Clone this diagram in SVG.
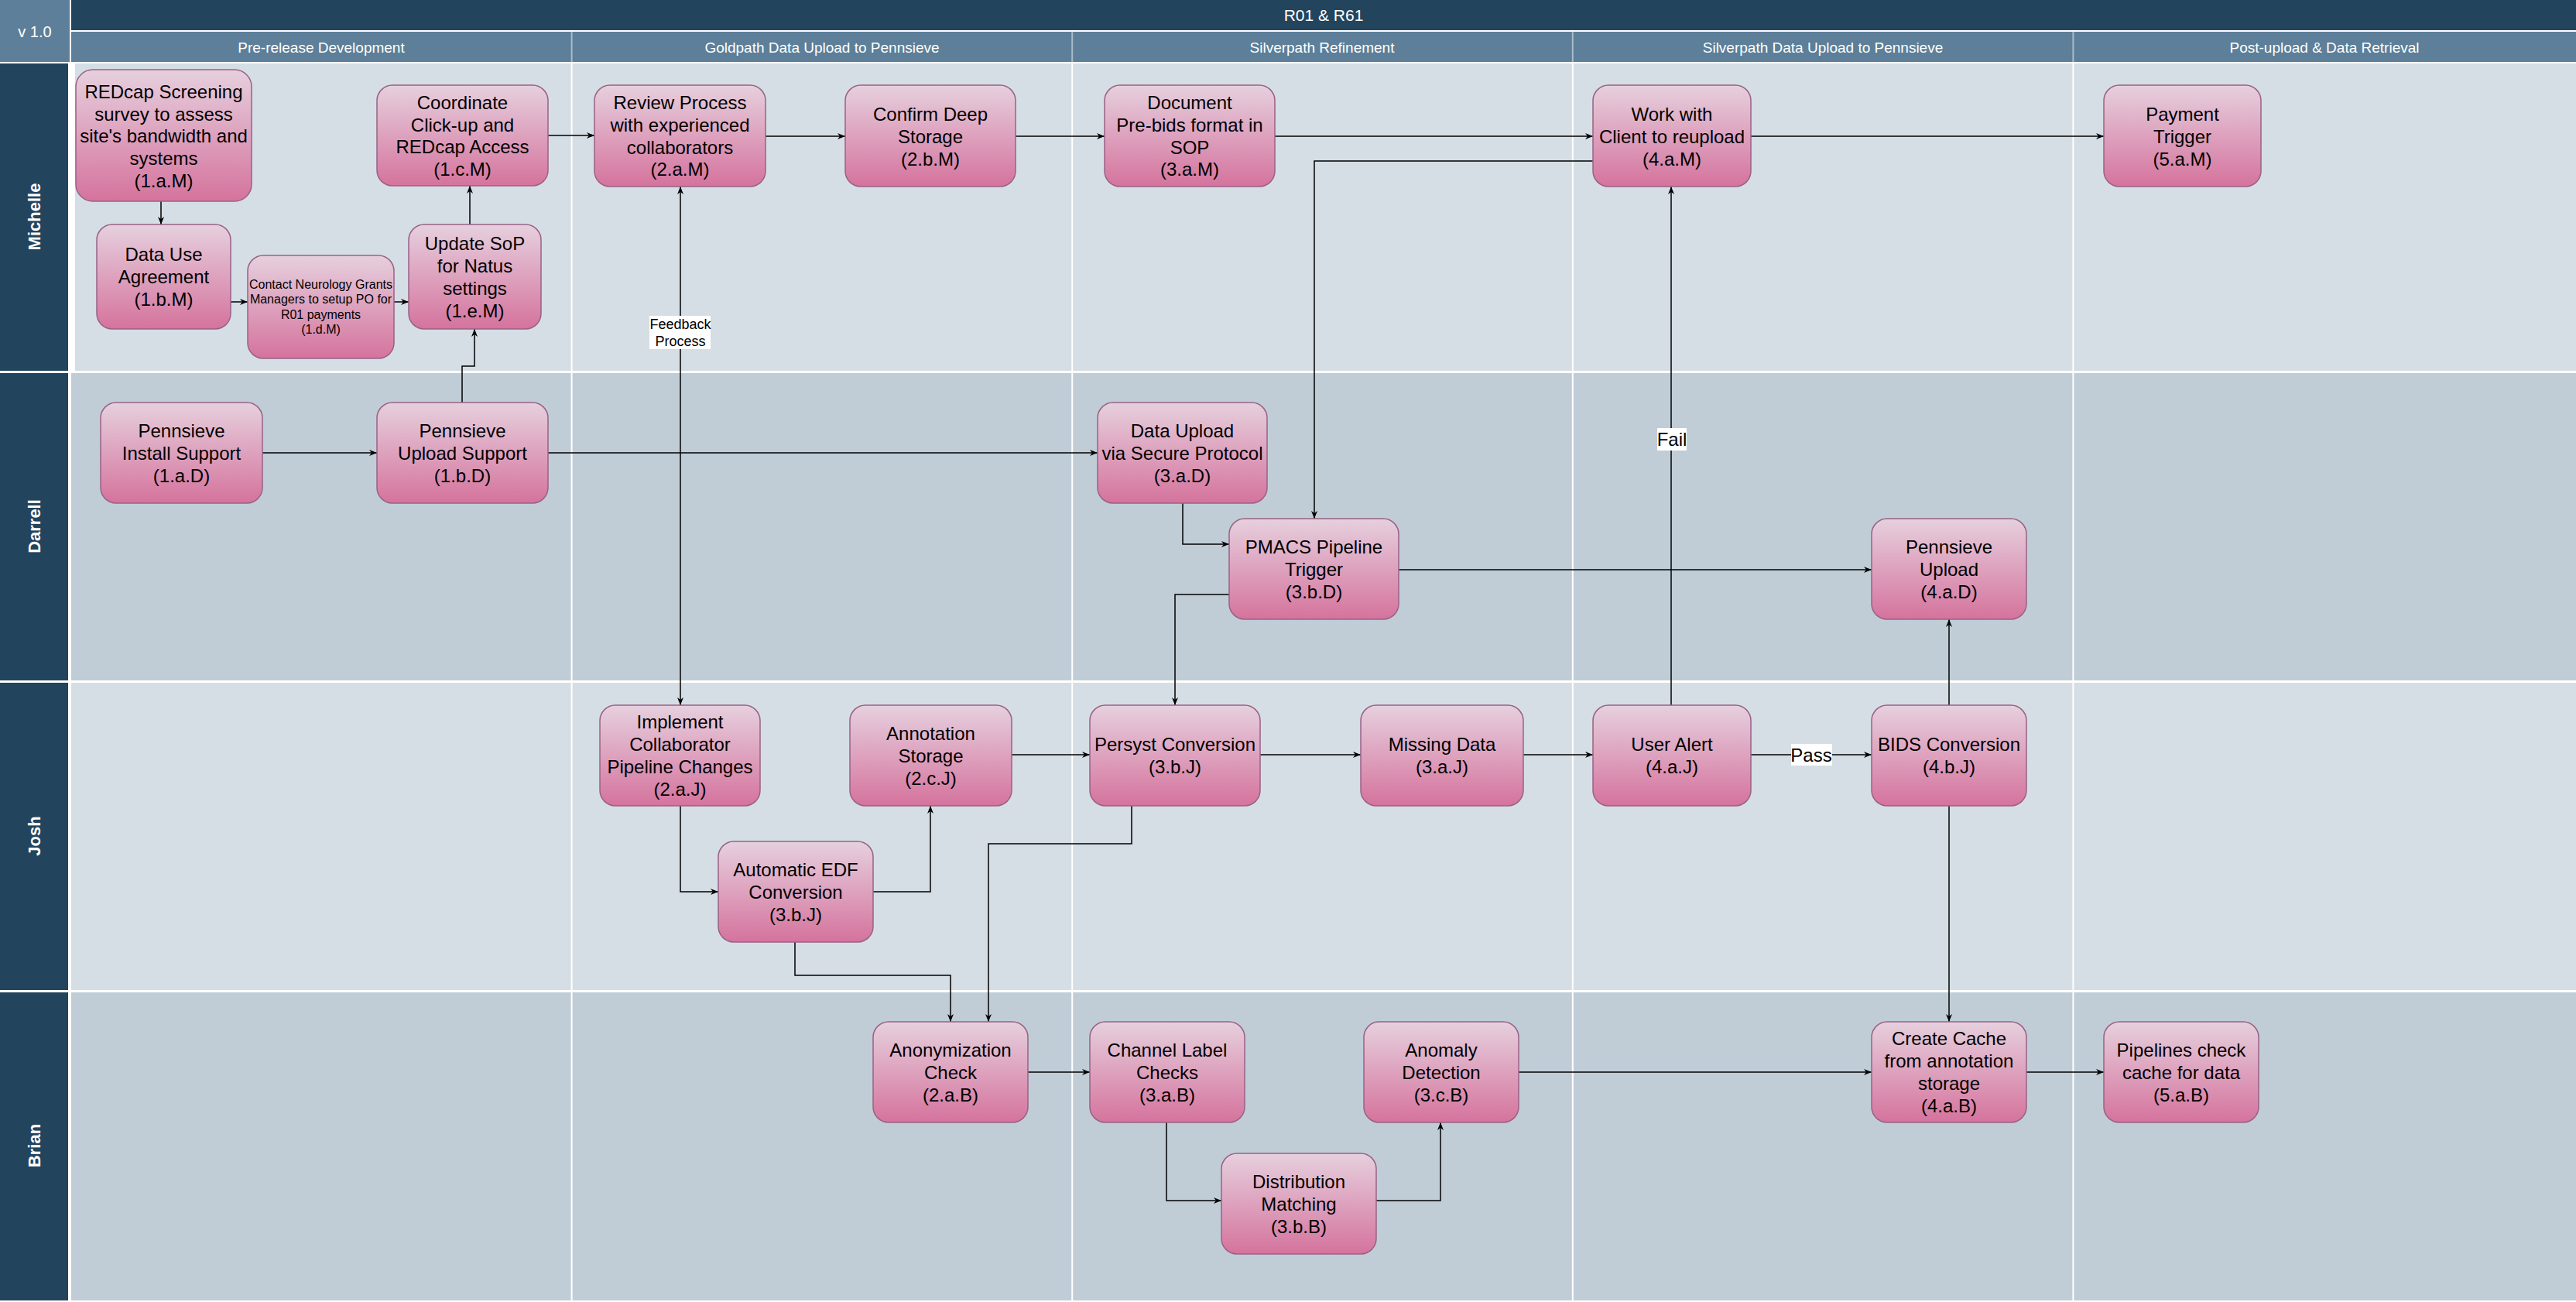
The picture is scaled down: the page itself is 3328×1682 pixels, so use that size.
<svg xmlns="http://www.w3.org/2000/svg" width="3328" height="1682" viewBox="0 0 3328 1682">
<defs>
<linearGradient id="pink" x1="0" y1="0" x2="0" y2="1">
<stop offset="0" stop-color="#E6D0DE"/>
<stop offset="1" stop-color="#D5739D"/>
</linearGradient>
<marker id="arr" viewBox="0 0 10 8" refX="10" refY="4" markerWidth="10" markerHeight="8" orient="auto-start-reverse" markerUnits="userSpaceOnUse">
<path d="M0,0 L10,4 L0,8 L3,4 z" fill="#000"/>
</marker>
<style>
.node rect{fill:url(#pink);stroke:#996185;stroke-width:1.5}
.node text{font-family:"Liberation Sans",Arial,sans-serif;font-size:24px;fill:#000;text-anchor:middle}
.node text.sm{font-size:16px}
.hdr{font-family:"Liberation Sans",Arial,sans-serif;font-size:19px;fill:#fff;text-anchor:middle}
.lane{font-family:"Liberation Sans",Arial,sans-serif;font-size:22px;font-weight:bold;fill:#fff;text-anchor:middle}
.edge path{fill:none;stroke:#000;stroke-width:1.5;marker-end:url(#arr)}
.lbl rect{fill:#fff}
.lbl text{font-family:"Liberation Sans",Arial,sans-serif;fill:#000;text-anchor:middle}
.lightbody{fill:#D5DEE5}
.darkbody{fill:#C0CDD7}
.lanehead{fill:#23445D}
.div{stroke:#fff;stroke-width:2}
</style>
</defs>
<g id="background">
<rect x="0" y="0" width="3328" height="1682" fill="#fff"/>
<rect x="0" y="0" width="90" height="80" fill="#5D7F99"/>
<text class="hdr" x="45" y="48" style="font-size:20px">v 1.0</text>
<rect x="92" y="0" width="3236" height="39" fill="#23445D"/>
<text class="hdr" x="1710" y="27" style="font-size:21px">R01 &amp; R61</text>
<rect x="92" y="41" width="3236" height="39" fill="#5D7F99"/>
<g stroke="#A9BBC9" stroke-width="2">
<line x1="738.6" y1="41" x2="738.6" y2="80"/>
<line x1="1385.2" y1="41" x2="1385.2" y2="80"/>
<line x1="2031.8" y1="41" x2="2031.8" y2="80"/>
<line x1="2678.4" y1="41" x2="2678.4" y2="80"/>
</g>
<text class="hdr" x="415" y="68">Pre-release Development</text>
<text class="hdr" x="1062" y="68">Goldpath Data Upload to Pennsieve</text>
<text class="hdr" x="1708" y="68">Silverpath Refinement</text>
<text class="hdr" x="2355" y="68">Silverpath Data Upload to Pennsieve</text>
<text class="hdr" x="3003" y="68">Post-upload &amp; Data Retrieval</text>
</g>
<g id="lanes">
<rect class="lanehead" x="0" y="82" width="88" height="397"/>
<rect class="lanehead" x="0" y="482" width="88" height="397"/>
<rect class="lanehead" x="0" y="882" width="88" height="397"/>
<rect class="lanehead" x="0" y="1282" width="88" height="398"/>
<rect class="lightbody" x="97" y="82" width="3231" height="397"/>
<rect class="darkbody" x="92" y="482" width="3236" height="397"/>
<rect class="lightbody" x="92" y="882" width="3236" height="397"/>
<rect class="darkbody" x="92" y="1282" width="3236" height="398"/>
<line class="div" x1="738.6" y1="82" x2="738.6" y2="1682"/>
<line class="div" x1="1385.2" y1="82" x2="1385.2" y2="1682"/>
<line class="div" x1="2031.8" y1="82" x2="2031.8" y2="1682"/>
<line class="div" x1="2678.4" y1="82" x2="2678.4" y2="1682"/>
<text class="lane" transform="translate(52,280) rotate(-90)">Michelle</text>
<text class="lane" transform="translate(52,680) rotate(-90)">Darrell</text>
<text class="lane" transform="translate(52,1080) rotate(-90)">Josh</text>
<text class="lane" transform="translate(52,1480) rotate(-90)">Brian</text>
</g>
<g id="connectors" class="edge">
<path d="M208,260 V290"/>
<path d="M298,390 H320"/>
<path d="M509,390 H528"/>
<path d="M607,290 V240"/>
<path d="M597,520 V473 H613 V425"/>
<path d="M708,175 H768"/>
<path d="M989,176 H1092"/>
<path d="M1312,176 H1427"/>
<path d="M1647,176 H2058"/>
<path d="M2262,176 H2718"/>
<path d="M2058,208 H1698 V670"/>
<path d="M339,585 H487"/>
<path d="M708,585 H1418"/>
<path d="M1528,650 V703 H1588"/>
<path d="M1807,736 H2418"/>
<path d="M1588,768 H1518 V911"/>
<path d="M879,241 V911" style="marker-start:url(#arr)"/>
<path d="M879,1041 V1152 H928"/>
<path d="M1128,1152 H1202 V1041"/>
<path d="M1307,975 H1408"/>
<path d="M1628,975 H1758"/>
<path d="M1968,975 H2058"/>
<path d="M2262,975 H2418"/>
<path d="M2159,911 V241"/>
<path d="M2518,911 V800"/>
<path d="M2518,1041 V1320"/>
<path d="M1027,1217 V1260 H1228 V1320"/>
<path d="M1462,1041 V1090 H1277 V1320"/>
<path d="M1328,1385 H1408"/>
<path d="M1507,1450 V1551 H1578"/>
<path d="M1778,1551 H1861 V1450"/>
<path d="M1962,1385 H2418"/>
<path d="M2618,1385 H2718"/>
</g>
<g id="edge-labels" class="lbl">
<rect x="839" y="408" width="79" height="43"/>
<text x="879" y="425" style="font-size:18px">Feedback</text>
<text x="879" y="447" style="font-size:18px">Process</text>
<rect x="2141" y="553" width="38" height="29"/>
<text x="2160" y="576" style="font-size:24px">Fail</text>
<rect x="2314" y="961" width="53" height="28"/>
<text x="2340" y="984" style="font-size:24px">Pass</text>
</g>
<g id="n1aM" class="node"><rect x="98" y="90" width="227" height="170" rx="22"/><text x="211.5" y="127">REDcap Screening</text><text x="211.5" y="156">survey to assess</text><text x="211.5" y="184">site's bandwidth and</text><text x="211.5" y="213">systems</text><text x="211.5" y="242">(1.a.M)</text></g>
<g id="n1bM" class="node"><rect x="125" y="290" width="173" height="135" rx="20"/><text x="211.5" y="337">Data Use</text><text x="211.5" y="366">Agreement</text><text x="211.5" y="395">(1.b.M)</text></g>
<g id="n1dM" class="node"><rect x="320" y="330" width="189" height="133" rx="20"/><text class="sm" x="414.5" y="373">Contact Neurology Grants</text><text class="sm" x="414.5" y="392">Managers to setup PO for</text><text class="sm" x="414.5" y="412">R01 payments</text><text class="sm" x="414.5" y="431">(1.d.M)</text></g>
<g id="n1eM" class="node"><rect x="528" y="290" width="171" height="135" rx="20"/><text x="613.5" y="323">Update SoP</text><text x="613.5" y="352">for Natus</text><text x="613.5" y="381">settings</text><text x="613.5" y="410">(1.e.M)</text></g>
<g id="n1cM" class="node"><rect x="487" y="110" width="221" height="130" rx="20"/><text x="597.5" y="141">Coordinate</text><text x="597.5" y="170">Click-up and</text><text x="597.5" y="198">REDcap Access</text><text x="597.5" y="227">(1.c.M)</text></g>
<g id="n1aD" class="node"><rect x="130" y="520" width="209" height="130" rx="20"/><text x="234.5" y="565">Pennsieve</text><text x="234.5" y="594">Install Support</text><text x="234.5" y="623">(1.a.D)</text></g>
<g id="n1bD" class="node"><rect x="487" y="520" width="221" height="130" rx="20"/><text x="597.5" y="565">Pennsieve</text><text x="597.5" y="594">Upload Support</text><text x="597.5" y="623">(1.b.D)</text></g>
<g id="n2aM" class="node"><rect x="768" y="110" width="221" height="131" rx="20"/><text x="878.5" y="141">Review Process</text><text x="878.5" y="170">with experienced</text><text x="878.5" y="199">collaborators</text><text x="878.5" y="227">(2.a.M)</text></g>
<g id="n2bM" class="node"><rect x="1092" y="110" width="220" height="131" rx="20"/><text x="1202" y="156">Confirm Deep</text><text x="1202" y="185">Storage</text><text x="1202" y="214">(2.b.M)</text></g>
<g id="n3aM" class="node"><rect x="1427" y="110" width="220" height="131" rx="20"/><text x="1537" y="141">Document</text><text x="1537" y="170">Pre-bids format in</text><text x="1537" y="199">SOP</text><text x="1537" y="227">(3.a.M)</text></g>
<g id="n4aM" class="node"><rect x="2058" y="110" width="204" height="131" rx="20"/><text x="2160" y="156">Work with</text><text x="2160" y="185">Client to reupload</text><text x="2160" y="214">(4.a.M)</text></g>
<g id="n5aM" class="node"><rect x="2718" y="110" width="203" height="131" rx="20"/><text x="2819.5" y="156">Payment</text><text x="2819.5" y="185">Trigger</text><text x="2819.5" y="214">(5.a.M)</text></g>
<g id="n3aD" class="node"><rect x="1418" y="520" width="219" height="130" rx="20"/><text x="1527.5" y="565">Data Upload</text><text x="1527.5" y="594">via Secure Protocol</text><text x="1527.5" y="623">(3.a.D)</text></g>
<g id="n3bD" class="node"><rect x="1588" y="670" width="219" height="130" rx="20"/><text x="1697.5" y="715">PMACS Pipeline</text><text x="1697.5" y="744">Trigger</text><text x="1697.5" y="773">(3.b.D)</text></g>
<g id="n4aD" class="node"><rect x="2418" y="670" width="200" height="130" rx="20"/><text x="2518" y="715">Pennsieve</text><text x="2518" y="744">Upload</text><text x="2518" y="773">(4.a.D)</text></g>
<g id="n2aJ" class="node"><rect x="775" y="911" width="207" height="130" rx="20"/><text x="878.5" y="941">Implement</text><text x="878.5" y="970">Collaborator</text><text x="878.5" y="999">Pipeline Changes</text><text x="878.5" y="1028">(2.a.J)</text></g>
<g id="n2cJ" class="node"><rect x="1098" y="911" width="209" height="130" rx="20"/><text x="1202.5" y="956">Annotation</text><text x="1202.5" y="985">Storage</text><text x="1202.5" y="1014">(2.c.J)</text></g>
<g id="n3bJ-edf" class="node"><rect x="928" y="1087" width="200" height="130" rx="20"/><text x="1028" y="1132">Automatic EDF</text><text x="1028" y="1161">Conversion</text><text x="1028" y="1190">(3.b.J)</text></g>
<g id="n3bJ" class="node"><rect x="1408" y="911" width="220" height="130" rx="20"/><text x="1518" y="970">Persyst Conversion</text><text x="1518" y="999">(3.b.J)</text></g>
<g id="n3aJ" class="node"><rect x="1758" y="911" width="210" height="130" rx="20"/><text x="1863" y="970">Missing Data</text><text x="1863" y="999">(3.a.J)</text></g>
<g id="n4aJ" class="node"><rect x="2058" y="911" width="204" height="130" rx="20"/><text x="2160" y="970">User Alert</text><text x="2160" y="999">(4.a.J)</text></g>
<g id="n4bJ" class="node"><rect x="2418" y="911" width="200" height="130" rx="20"/><text x="2518" y="970">BIDS Conversion</text><text x="2518" y="999">(4.b.J)</text></g>
<g id="n2aB" class="node"><rect x="1128" y="1320" width="200" height="130" rx="20"/><text x="1228" y="1365">Anonymization</text><text x="1228" y="1394">Check</text><text x="1228" y="1423">(2.a.B)</text></g>
<g id="n3aB" class="node"><rect x="1408" y="1320" width="200" height="130" rx="20"/><text x="1508" y="1365">Channel Label</text><text x="1508" y="1394">Checks</text><text x="1508" y="1423">(3.a.B)</text></g>
<g id="n3bB" class="node"><rect x="1578" y="1490" width="200" height="130" rx="20"/><text x="1678" y="1535">Distribution</text><text x="1678" y="1564">Matching</text><text x="1678" y="1593">(3.b.B)</text></g>
<g id="n3cB" class="node"><rect x="1762" y="1320" width="200" height="130" rx="20"/><text x="1862" y="1365">Anomaly</text><text x="1862" y="1394">Detection</text><text x="1862" y="1423">(3.c.B)</text></g>
<g id="n4aB" class="node"><rect x="2418" y="1320" width="200" height="130" rx="20"/><text x="2518" y="1350">Create Cache</text><text x="2518" y="1379">from annotation</text><text x="2518" y="1408">storage</text><text x="2518" y="1437">(4.a.B)</text></g>
<g id="n5aB" class="node"><rect x="2718" y="1320" width="200" height="130" rx="20"/><text x="2818" y="1365">Pipelines check</text><text x="2818" y="1394">cache for data</text><text x="2818" y="1423">(5.a.B)</text></g>
</svg>
